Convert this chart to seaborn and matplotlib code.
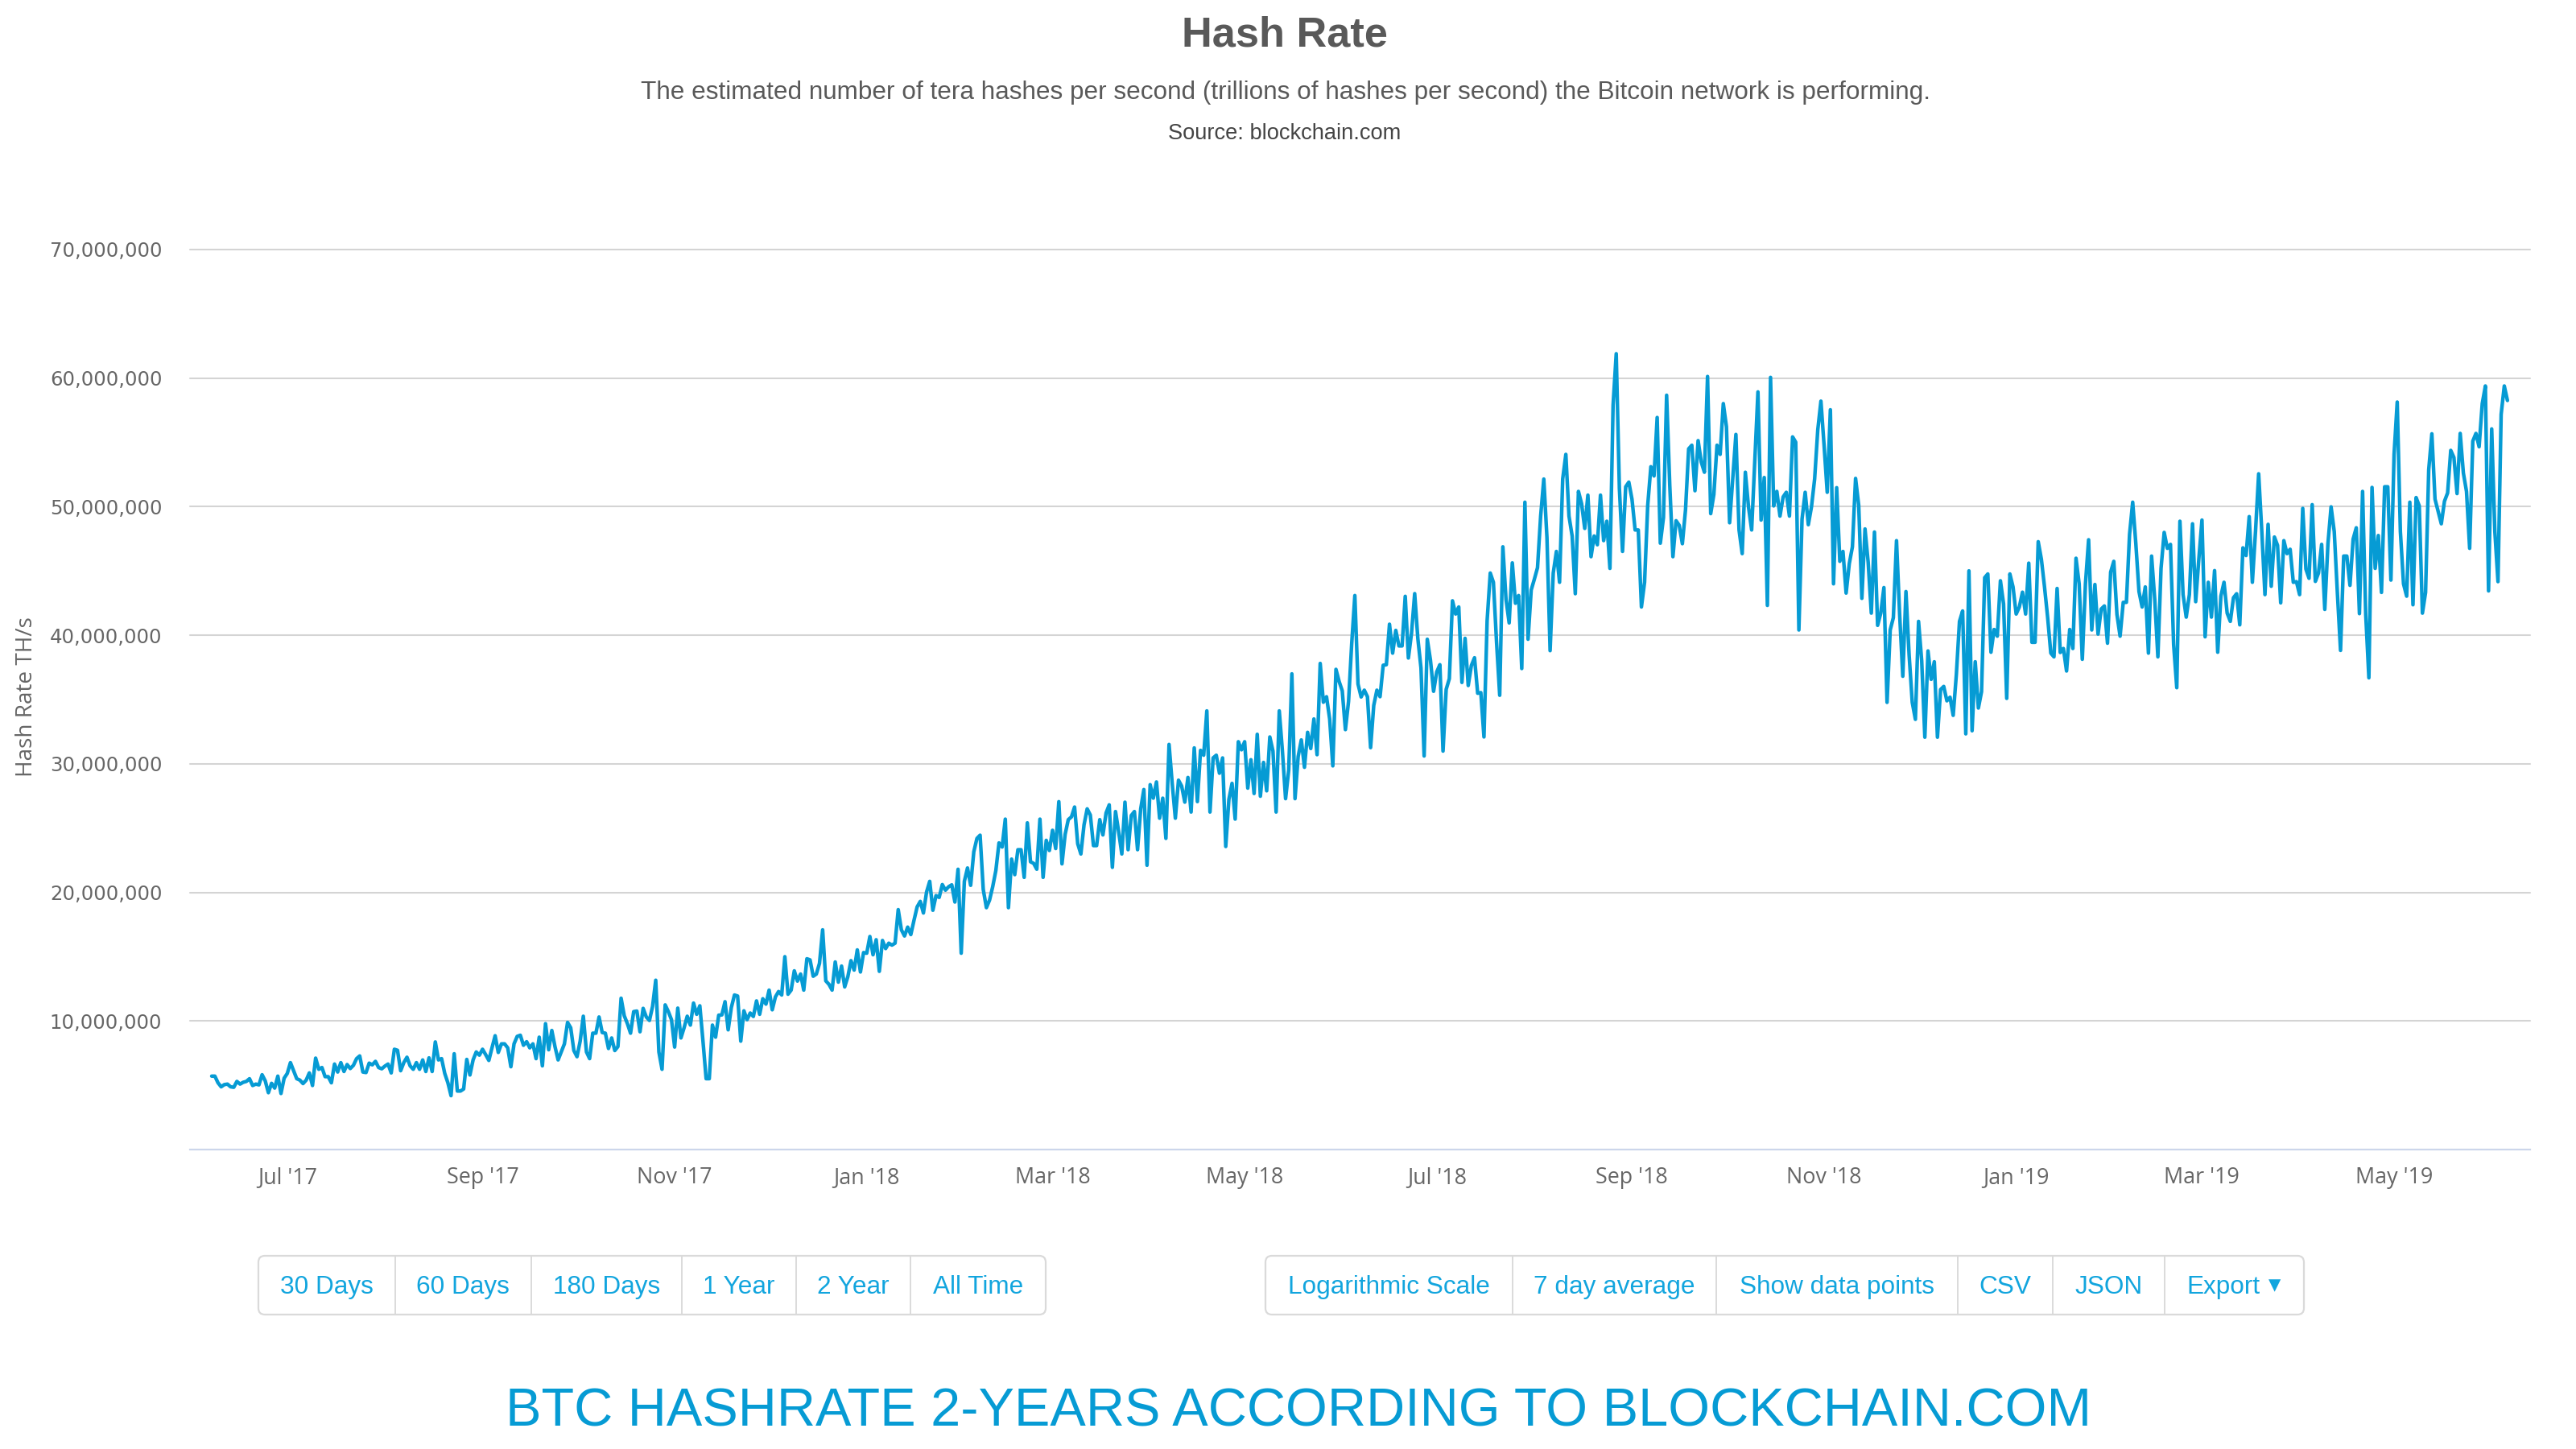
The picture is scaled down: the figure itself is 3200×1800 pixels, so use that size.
import matplotlib
matplotlib.use("Agg")
import matplotlib.pyplot as plt
import matplotlib.dates as mdates
from matplotlib.patches import FancyBboxPatch
import pandas as pd
import seaborn as sns

TITLE = "Hash Rate"
SUBTITLE = ("The estimated number of tera hashes per second (trillions of hashes per second) "
            "the Bitcoin network is performing.")
SOURCE = "Source: blockchain.com"
FOOTER = "BTC HASHRATE 2-YEARS ACCORDING TO BLOCKCHAIN.COM"
Y_LABEL = "Hash Rate TH/s"

START_DATE = "2017-06-07"

# Daily hash rate, millions of TH/s
rate_2017_a = [
    5.71,5.71,5.19,4.88,5.05,5.09,4.88,4.84,5.30,5.09,5.23,5.30,5.51,4.98,5.09,5.03,5.82,5.34,4.42,5.15,
    4.78,5.71,4.36,5.55,5.92,6.76,6.13,5.51,5.40,5.13,5.40,5.96,4.98,7.11,6.24,6.38,5.67,5.67,5.19,6.65,
    6.03,6.76,6.07,6.61,6.30,6.55,7.07,7.28,6.03,5.99,6.72,6.59,6.86,6.38,6.28,6.49,6.65,5.96,7.80,7.72,
    6.13,6.76,7.18,6.51,6.24,6.76,6.24,6.97,6.07,7.13,6.07,8.37,6.97,7.07,5.92,5.19,4.19,7.45,4.55,4.55,
    4.71,7.01,5.80,6.97,7.59,7.34,7.80,7.38,6.93,7.91,8.85,7.55,8.22,8.22,7.91,6.44,8.22,8.80,8.89,8.11,
    8.39,7.91,8.22,7.07,8.74,6.51,9.79,7.76,9.26,8.01,6.97,7.59,8.22,9.89,9.47,7.70,7.22,8.43,10.37,7.59,
    7.07,9.05,9.05,10.31,9.10,9.05,7.86,8.68,7.70,8.01,11.77,10.41,9.79,9.05,10.73,10.77,9.16,10.98,10.31,10.04,
    11.14,13.17,7.59,6.24,11.25,10.73,10.10,7.97,11.0,8.68,9.47,10.37,9.68,11.39,10.52,11.18,8.43,5.51,5.51,9.68,
    8.74,10.45,10.47,11.5,9.31,11.04,12.02,11.94,8.43,10.79,10.10,10.62,10.35,11.56,10.52,11.73,11.31,12.4,10.87,11.87,
    12.29,12.02,15.0,12.08,12.4,13.9,13.1,13.65,12.4,
]
rate_2018_a = [
    14.84,14.75,13.48,13.65,14.48,17.09,13.12,12.85,12.4,14.59,13.02,14.27,12.65,13.44,14.69,13.96,15.53,13.81,15.32,15.27,
    16.57,15.15,16.32,13.86,16.26,15.63,16.05,15.9,16.05,18.66,17.09,16.61,17.3,16.72,17.82,18.87,
    19.30,18.40,20.03,20.86,18.61,19.75,19.61,20.61,20.17,20.44,20.59,19.25,21.8,15.27,20.86,21.9,20.55,23.16,24.2,24.45,
    20.23,18.81,19.4,20.44,21.7,23.85,23.53,25.7,18.81,22.59,21.38,23.32,23.32,21.17,25.41,22.38,22.26,21.8,25.7,21.17,
    24.05,23.26,24.83,23.41,27.06,22.22,24.51,25.66,25.87,26.64,23.78,22.99,25.25,26.5,26.02,23.64,23.64,25.66,24.47,26.18,
    26.81,21.95,26.29,24.72,22.99,27.02,23.32,25.98,26.29,23.32,26.5,28.0,22.11,28.38,27.33,28.59,25.77,27.33,24.2,31.51,
    28.48,25.77,28.73,28.27,27.02,28.94,26.25,31.24,27.06,31.05,30.67,34.12,26.25,30.46,30.67,29.27,30.46,23.57,27.23,28.48,
    25.7,31.72,31.09,31.72,28.11,30.32,27.69,32.3,27.48,30.11,27.9,32.09,30.99,26.25,34.12,30.99,27.29,29.52,37.0,27.29,
    30.57,31.86,29.73,32.45,31.19,33.49,30.71,37.81,34.79,35.22,33.49,29.84,37.35,36.41,35.68,32.66,34.85,39.34,43.09,36.21,
    35.2,35.73,35.22,31.26,34.54,35.73,35.22,37.67,37.71,40.86,38.61,40.38,39.17,39.17,43.03,38.23,40.17,43.24,39.75,37.46,
    30.61,39.69,38.08,35.64,37.15,37.71,30.99,35.79,36.62,
]
rate_2018_b = [
    42.68,41.65,42.2,36.33,39.76,36.09,37.65,38.25,35.49,35.54,32.09,41.13,44.84,44.12,39.45,35.33,46.88,42.8,40.96,45.63,
    42.49,43.09,37.41,50.35,39.69,43.52,44.36,45.25,49.27,52.15,47.6,38.8,44.84,46.52,44.12,52.15,54.07,49.27,47.72,43.23,
    51.19,50.23,48.31,50.9,46.11,47.72,47.04,50.9,47.36,48.87,45.2,57.9,61.9,51.43,46.52,51.55,51.91,50.59,48.19,48.19,
    42.2,44.12,50.11,53.11,52.39,56.94,47.16,49.15,58.67,51.67,46.11,48.91,48.55,47.12,49.75,54.5,54.78,51.24,55.14,53.47,
    52.68,60.13,49.46,50.95,54.78,54.07,58.02,56.22,48.75,52.15,55.62,48.19,46.35,52.68,49.99,48.19,53.59,58.93,48.96,52.27,
    42.32,60.06,50.06,51.19,49.27,50.76,51.12,49.27,55.43,55.02,40.41,49.03,51.12,48.6,49.99,52.15,55.98,58.21,54.78,51.12,
    57.54,44.0,51.48,45.75,46.52,43.28,45.56,46.88,52.2,50.11,42.87,48.27,45.68,41.72,48.03,40.77,41.72,43.71,34.78,40.41,
    41.37,47.36,41.61,36.81,43.4,38.49,34.78,33.46,41.08,38.01,32.07,38.78,36.57,37.94,32.07,35.78,36.02,34.9,35.18,33.77,
    36.93,41.08,41.89,32.33,45.01,32.57,37.94,34.34,35.61,44.48,44.77,38.68,40.45,39.93,44.24,42.44,35.09,44.77,43.76,
]
rate_2019 = [
    41.65,42.2,43.35,41.65,45.61,39.45,39.45,47.28,45.92,43.76,41.37,38.61,38.32,43.64,38.66,38.97,37.22,40.45,38.97,45.99,
    44.0,38.13,44.0,47.43,40.41,43.95,40.09,42.04,42.28,39.38,44.91,45.75,41.61,39.93,42.56,42.56,47.84,50.35,47.12,43.4,
    42.2,43.76,38.61,46.16,42.8,38.32,45.2,48.0,46.76,47.07,39.28,35.92,48.87,43.16,41.41,43.16,48.67,42.61,45.92,48.96,
    39.88,44.12,41.41,45.03,38.68,43.04,44.12,41.72,41.08,42.92,43.23,40.81,46.8,46.2,49.23,44.12,48.07,52.56,48.07,43.16,
    48.63,43.81,47.64,46.99,42.52,47.36,46.35,46.69,44.12,44.17,43.16,49.87,45.15,44.43,50.16,44.19,44.84,47.07,42.01,47.12,
    49.99,48.07,43.28,38.82,46.16,46.16,43.88,47.48,48.36,41.68,51.19,41.61,36.69,51.5,45.2,47.76,43.33,51.55,51.55,44.29,
    54.07,58.14,48.07,44.0,43.04,50.35,42.37,50.71,50.06,41.72,43.33,52.87,55.67,50.59,49.63,48.67,50.42,51.07,54.38,53.83,
    51.02,55.7,52.63,51.19,46.76,55.1,55.7,54.66,58.02,59.39,43.45,56.05,48.07,44.17,57.18,59.39,58.26,
]

y_ticks_m = [10, 20, 30, 40, 50, 60, 70]
x_tick_dates = ["2017-07-01", "2017-09-01", "2017-11-01", "2018-01-01", "2018-03-01", "2018-05-01",
                "2018-07-01", "2018-09-01", "2018-11-01", "2019-01-01", "2019-03-01", "2019-05-01"]
x_tick_labels = ["Jul '17", "Sep '17", "Nov '17", "Jan '18", "Mar '18", "May '18",
                 "Jul '18", "Sep '18", "Nov '18", "Jan '19", "Mar '19", "May '19"]

range_buttons = ["30 Days", "60 Days", "180 Days", "1 Year", "2 Year", "All Time"]
range_edges = [321, 490.5, 659.6, 847, 989, 1131, 1299]
option_buttons = ["Logarithmic Scale", "7 day average", "Show data points", "CSV", "JSON", "Export"]
option_edges = [1572, 1878.6, 2132, 2432, 2550, 2689, 2862]

LINE = "#069bd4"
BLUE = "#12a5de"
GREY = "#666666"
W, H = 3200, 1800

sns.set_theme(style="white")
plt.rcParams["font.family"] = ["Liberation Sans", "DejaVu Sans"]

rates = rate_2017_a + rate_2018_a + rate_2018_b + rate_2019
df = pd.DataFrame({
    "date": pd.date_range(START_DATE, periods=len(rates), freq="D"),
    "rate": [r * 1e6 for r in rates],
})

fig = plt.figure(figsize=(16, 9), dpi=200, facecolor="white")
ax = fig.add_axes([236 / W, 1 - 1428 / H, (3143 - 236) / W, (1428 - 310) / H])

sns.lineplot(data=df, x="date", y="rate", ax=ax, color=LINE, linewidth=1.6,
             estimator=None, errorbar=None, solid_joinstyle="round", solid_capstyle="round", zorder=3)

ref = mdates.date2num(pd.Timestamp("2017-07-01"))
ax.set_xlim(ref - 30.9, ref + 712.2)
ax.set_ylim(0, 70e6)
ax.set_xlabel("")
ax.set_ylabel("")

ax.set_yticks([v * 1e6 for v in y_ticks_m])
ax.set_yticklabels([f"{v * 1000000:,}" for v in y_ticks_m], fontfamily="DejaVu Sans",
                   fontsize=8.8, color=GREY)
ax.set_xticks(pd.to_datetime(x_tick_dates))
ax.set_xticklabels(x_tick_labels, fontfamily="Open Sans", fontsize=9.7, color=GREY)
ax.tick_params(axis="y", length=0, pad=12.5)
ax.tick_params(axis="x", length=7.5, width=0.7, color="#ccd6eb", pad=0)
ax.grid(axis="y", color="#d4d4d4", linewidth=0.75, zorder=0)
ax.grid(axis="x", visible=False)
for gl in ax.get_ygridlines():
    gl.set_clip_on(False)
for side in ("top", "left", "right"):
    ax.spines[side].set_visible(False)
ax.spines["bottom"].set_color("#ccd6eb")
ax.spines["bottom"].set_linewidth(0.8)

# Overlay in picture pixels for page text and the button bars
ui = fig.add_axes([0, 0, 1, 1], facecolor="none")
ui.set_xlim(0, W)
ui.set_ylim(H, 0)
ui.axis("off")

ui.text(1596, 44, TITLE, ha="center", va="center", fontsize=18.85, fontweight="bold", color="#595959")
ui.text(1597, 115, SUBTITLE, ha="center", va="center", fontsize=11.35, color="#595959")
ui.text(1596, 166, SOURCE, ha="center", va="center", fontsize=9.8, color="#444444")
ui.text(33, 866, Y_LABEL, ha="center", va="center", rotation=90, family="Open Sans",
        fontsize=10.1, color=GREY)
ui.text(1613, 1754, FOOTER, ha="center", va="center", fontsize=24, color=LINE)

def button_bar(labels, edges):
    top, bottom = 1560, 1633
    ui.add_patch(FancyBboxPatch((edges[0] + 8, top + 8), edges[-1] - edges[0] - 16, bottom - top - 16,
                                boxstyle="round,pad=8", fc="white", ec="#dadada", lw=0.8))
    for e in edges[1:-1]:
        ui.plot([e, e], [top, bottom], color="#dadada", lw=0.7)
    for label, left, right in zip(labels, edges[:-1], edges[1:]):
        cx = (left + right) / 2
        if label == "Export":
            ui.text(cx - 14, 1599, label, ha="center", va="center", fontsize=11.35, color=BLUE)
            ui.text(cx + 50, 1597, "\u25be", ha="center", va="center", fontsize=11,
                    family="DejaVu Sans", color=BLUE)
        else:
            ui.text(cx, 1599, label, ha="center", va="center", fontsize=11.35, color=BLUE)

button_bar(range_buttons, range_edges)
button_bar(option_buttons, option_edges)

fig.savefig("out.png", dpi=200, facecolor="white")
